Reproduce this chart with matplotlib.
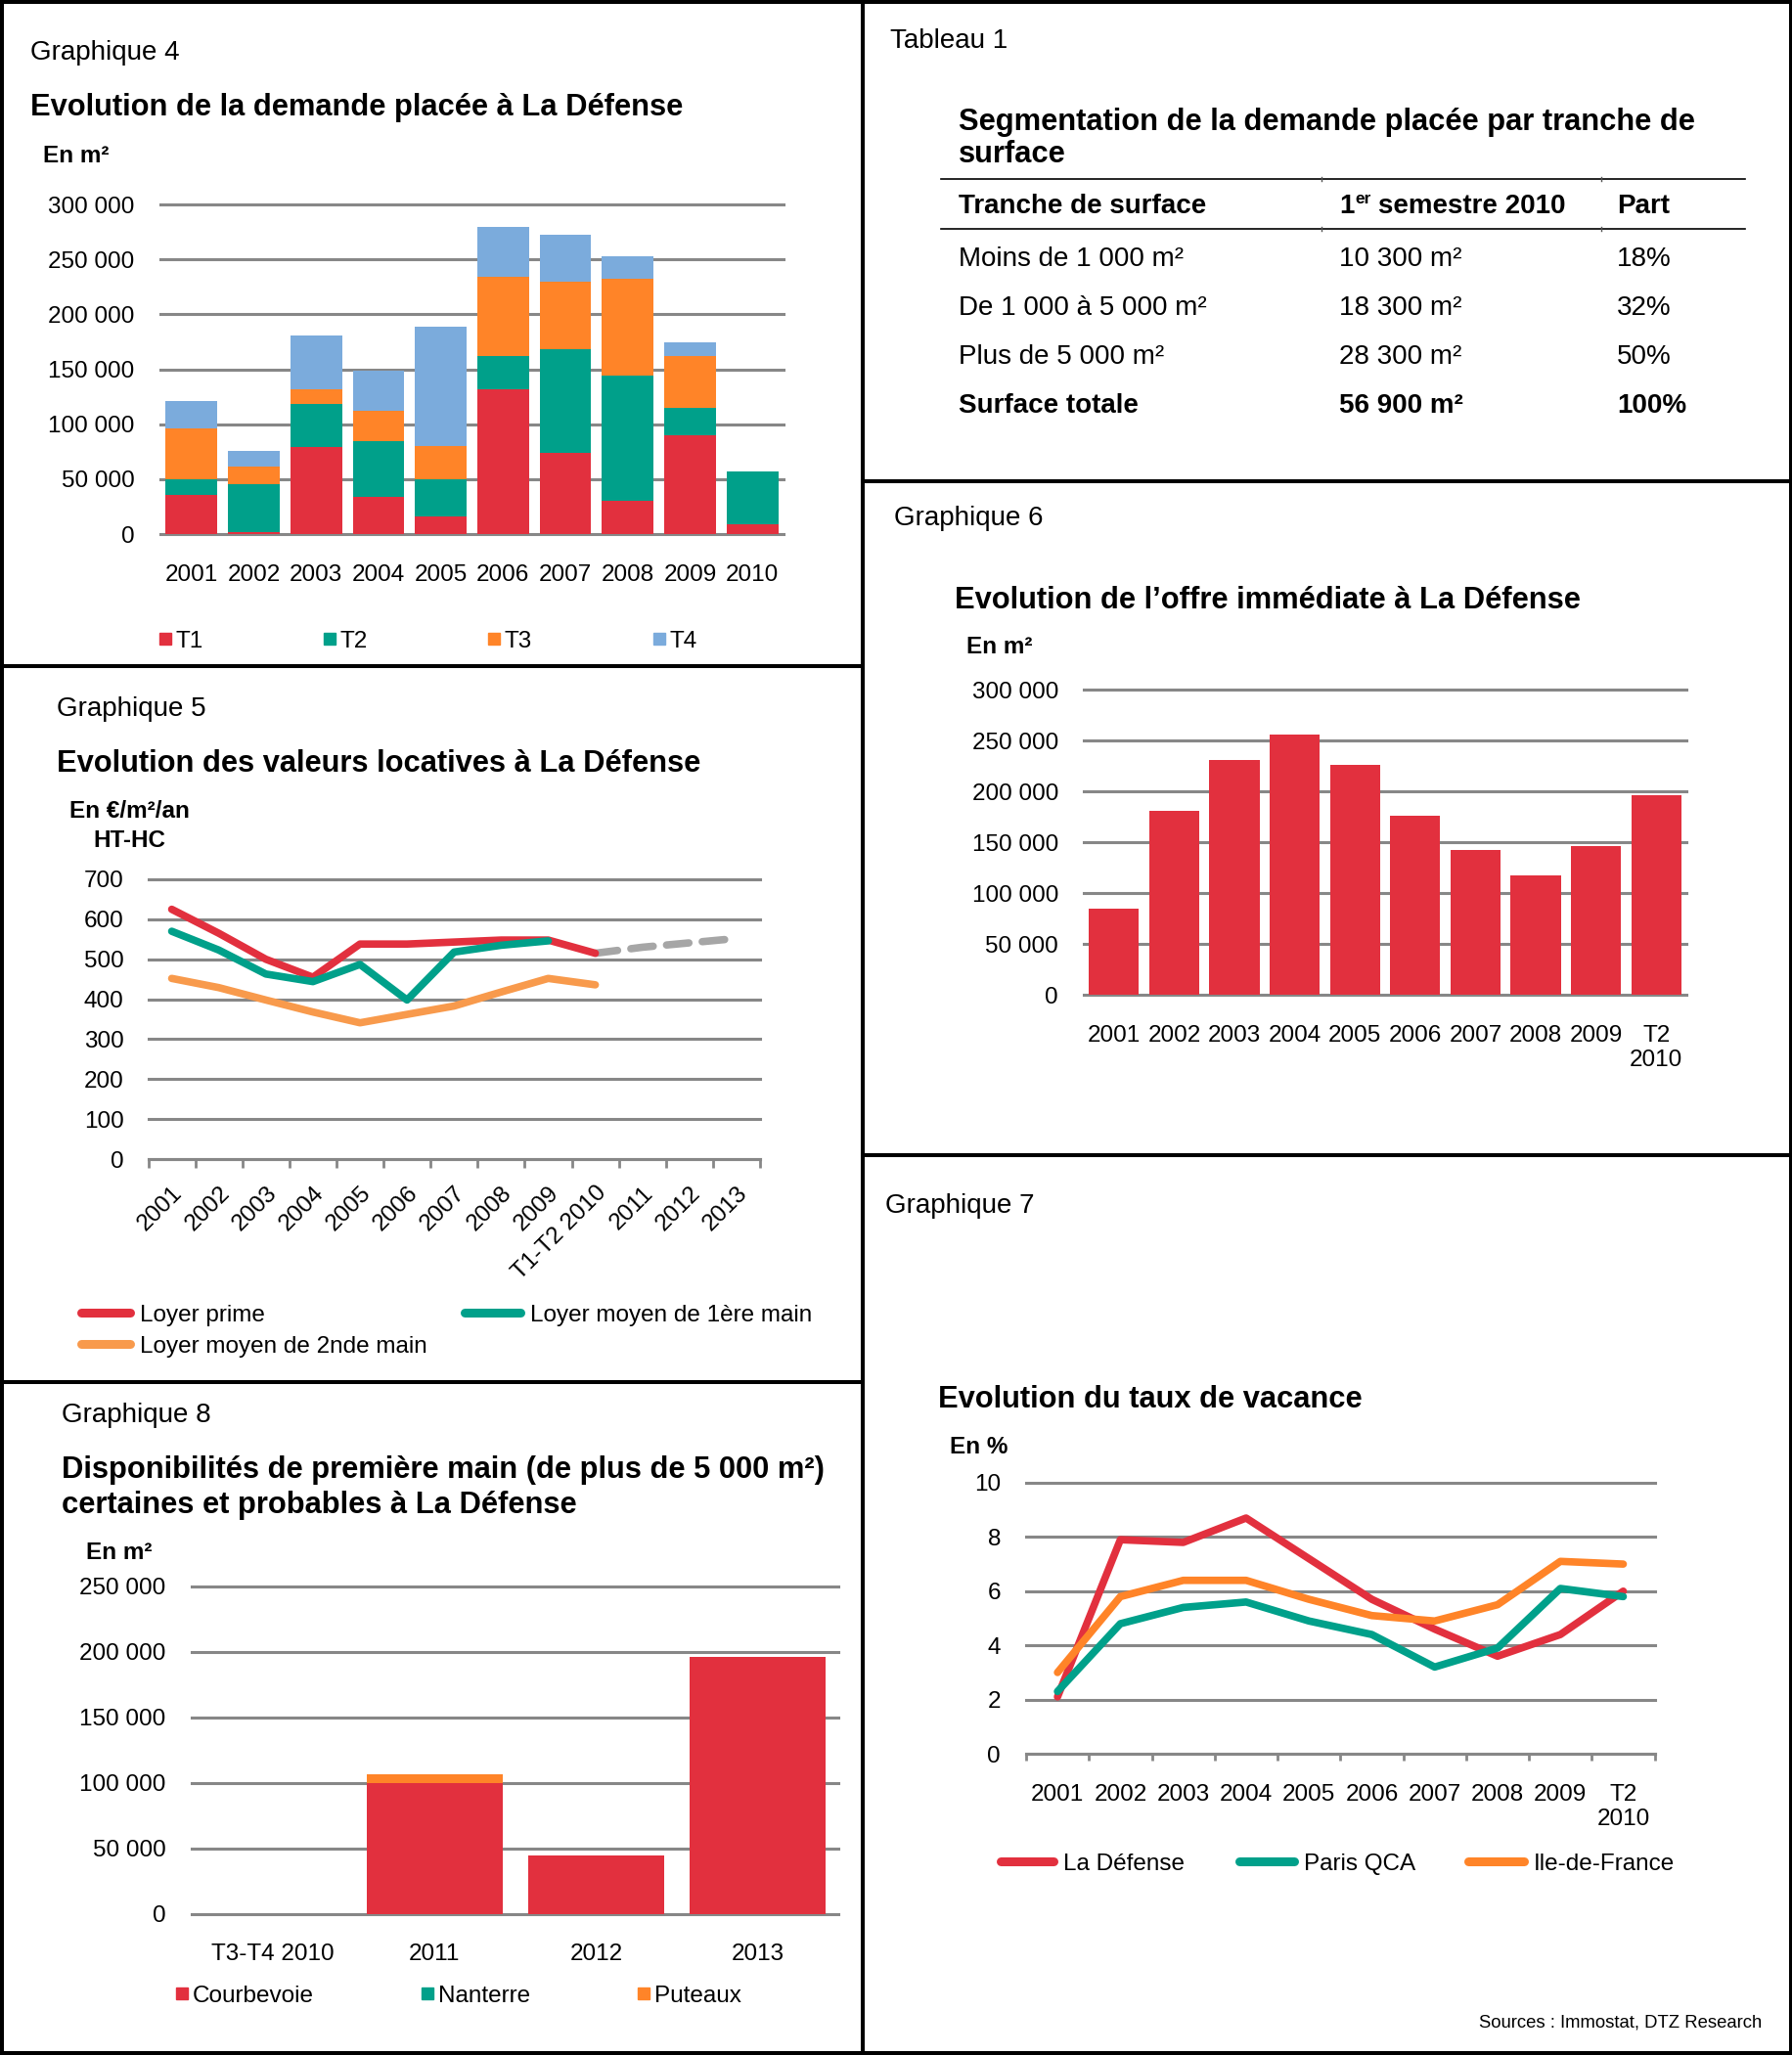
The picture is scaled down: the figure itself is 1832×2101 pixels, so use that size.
import matplotlib
matplotlib.use("Agg")
import matplotlib.pyplot as plt
from matplotlib.lines import Line2D
from matplotlib.patches import Rectangle
from matplotlib.ticker import FuncFormatter
import numpy as np

plt.rcParams["font.family"] = ["Liberation Sans", "DejaVu Sans"]

# ---- data ----
years4 = ["2001", "2002", "2003", "2004", "2005", "2006", "2007", "2008", "2009", "2010"]
t1 = [36000, 2000, 79500, 33500, 16000, 131500, 74000, 30000, 89500, 9000]
t2 = [13500, 43000, 39000, 51500, 34000, 30500, 94500, 114500, 25500, 48000]
t3 = [46500, 16000, 13500, 27000, 30500, 72000, 61000, 88000, 47000, 0]
t4 = [25500, 14500, 49000, 37000, 108500, 45500, 42500, 20500, 12500, 0]

years5 = ["2001", "2002", "2003", "2004", "2005", "2006", "2007", "2008", "2009",
          "T1-T2 2010", "2011", "2012", "2013"]
loyer_prime = [625, 565, 500, 455, 538, 538, 543, 548, 548, 515]
loyer_1ere = [570, 523, 463, 444, 487, 398, 518, 535, 546]
loyer_2nde = [452, 429, 398, 368, 341, 362, 383, 418, 452, 436]
prevision = [515, 530, 541, 552]  # T1-T2 2010 -> 2013

tab_head = ["Tranche de surface", "semestre 2010", "Part"]
tab_tranches = ["Moins de 1 000 m²", "De 1 000 à 5 000 m²", "Plus de 5 000 m²", "Surface totale"]
tab_surfaces = ["10 300 m²", "18 300 m²", "28 300 m²", "56 900 m²"]
tab_parts = ["18%", "32%", "50%", "100%"]

years6 = ["2001", "2002", "2003", "2004", "2005", "2006", "2007", "2008", "2009", "T2\n2010"]
offre = [85000, 181000, 231000, 256000, 226000, 176000, 142000, 117000, 146000, 196500]

years7 = years6
vac_defense = [2.1, 7.9, 7.8, 8.7, 7.2, 5.7, 4.6, 3.6, 4.4, 6.0]
vac_qca = [2.3, 4.8, 5.4, 5.6, 4.9, 4.4, 3.2, 3.9, 6.1, 5.8]
vac_idf = [3.0, 5.8, 6.4, 6.4, 5.7, 5.1, 4.9, 5.5, 7.1, 7.0]

periods8 = ["T3-T4 2010", "2011", "2012", "2013"]
courbevoie = [0, 100000, 44500, 196000]
nanterre = [0, 0, 0, 0]
puteaux = [0, 6000, 0, 0]

# ---- colours ----
RED = "#E2303E"
TEAL = "#00A08A"
ORANGE = "#FF8428"
ORANGE2 = "#F89A4C"
BLUE = "#7BABDC"
GRID = "#878787"
DASH = "#A6A6A6"

W, H = 1833, 2101
fig = plt.figure(figsize=(W / 100, H / 100), dpi=100)


def fx(x):
    return x / W


def fy(y):
    return 1 - y / H


def text(x, y, s, size=17.5, weight="normal", ha="left", va="center"):
    # small downward nudge so the visual centre sits where it was measured
    fig.text(fx(x), fy(y + 3), s, fontsize=size, fontweight=weight, ha=ha, va=va)


def axes_px(x0, y0, x1, y1):
    return fig.add_axes([fx(x0), fy(y1), (x1 - x0) / W, (y1 - y0) / H])


def space_fmt(v, pos):
    return f"{int(round(v)):,}".replace(",", " ")


def base_style(ax, ymax, step, pad, fmt=None):
    for s in ax.spines.values():
        s.set_visible(False)
    ax.set_facecolor("none")
    ax.set_ylim(0, ymax)
    ticks = np.arange(0, ymax + step / 2, step)
    ax.set_yticks(ticks)
    for t in ticks:
        ax.axhline(t, color=GRID, lw=2.2, zorder=0, clip_on=False)
    ax.tick_params(axis="y", length=0, pad=pad, labelsize=17.5)
    if fmt:
        ax.yaxis.set_major_formatter(FuncFormatter(fmt))


def square_legend(items, y):
    for x, c, lab in items:
        fig.add_artist(Rectangle((fx(x), fy(y + 6)), 12 / W, 12 / H,
                                 transform=fig.transFigure, color=c))
        text(x + 17, y, lab)


def line_legend(items, y):
    for x0, x1, c, lab in items:
        fig.add_artist(Line2D([fx(x0 + 4), fx(x1 - 4)], [fy(y), fy(y)], lw=6.5, color=c,
                              solid_capstyle="round", transform=fig.transFigure))
        text(x1 + 6, y, lab)


# ---- Graphique 4 ----
text(31, 51, "Graphique 4", 20)
text(31, 107, "Evolution de la demande placée à La Défense", 22.2, "bold")
text(44, 156, "En m²", 17.5, "bold")
ax4 = axes_px(164, 209, 801, 546)
base_style(ax4, 300000, 50000, 19, space_fmt)
x4 = np.arange(len(years4))
bottom = np.zeros(len(years4))
for vals, c in [(t1, RED), (t2, TEAL), (t3, ORANGE), (t4, BLUE)]:
    ax4.bar(x4, vals, 0.83, bottom=bottom, color=c, zorder=2)
    bottom += np.array(vals)
ax4.set_xlim(-0.5, len(years4) - 0.5)
ax4.set_xticks(x4, years4)
ax4.tick_params(axis="x", length=0, pad=22, labelsize=17.5)
square_legend([(163, RED, "T1"), (331, TEAL, "T2"), (499, ORANGE, "T3"), (668, BLUE, "T4")], 653)

# ---- Graphique 5 ----
text(58, 722, "Graphique 5", 20)
text(58, 778, "Evolution des valeurs locatives à La Défense", 22.2, "bold")
text(132, 827, "En €/m²/an", 17.5, "bold", ha="center")
text(132, 856, "HT-HC", 17.5, "bold", ha="center")
ax5 = axes_px(151.5, 899, 777, 1185)
base_style(ax5, 700, 100, 18)
ax5.spines["bottom"].set_visible(True)
ax5.spines["bottom"].set_color(GRID)
ax5.spines["bottom"].set_linewidth(2.2)
ax5.set_xlim(-0.5, len(years5) - 0.5)
ax5.set_xticks(np.arange(len(years5)), years5, rotation=45, ha="right",
               rotation_mode="anchor")
ax5.set_xticks(np.arange(-0.5, len(years5)), minor=True)
ax5.tick_params(axis="x", which="major", length=0, pad=17, labelsize=17.5)
ax5.tick_params(axis="x", which="minor", length=6.5, width=2, color=GRID)
lkw = dict(lw=5.5, solid_capstyle="round", solid_joinstyle="round", zorder=3)
ax5.plot(np.arange(len(loyer_prime)), loyer_prime, color=RED, **lkw)
ax5.plot(np.arange(len(loyer_1ere)), loyer_1ere, color=TEAL, **lkw)
ax5.plot(np.arange(len(loyer_2nde)), loyer_2nde, color=ORANGE2, **lkw)
ax5.plot(np.arange(9, 9 + len(prevision)), prevision, color=DASH, lw=5.5,
         dashes=(3, 1.8), dash_capstyle="round", zorder=2)
line_legend([(79, 137, RED, "Loyer prime"), (471, 536, TEAL, "Loyer moyen de 1ère main")], 1342)
line_legend([(79, 137, ORANGE2, "Loyer moyen de 2nde main")], 1374)

# ---- Graphique 8 ----
text(63, 1444, "Graphique 8", 20)
text(63, 1500, "Disponibilités de première main (de plus de 5 000 m²)", 22.2, "bold")
text(63, 1536, "certaines et probables à La Défense", 22.2, "bold")
text(88, 1584, "En m²", 17.5, "bold")
ax8 = axes_px(196, 1621.5, 857.5, 1956.5)
base_style(ax8, 250000, 50000, 19, space_fmt)
x8 = np.arange(len(periods8))
bottom = np.zeros(len(periods8))
for vals, c in [(courbevoie, RED), (nanterre, TEAL), (puteaux, ORANGE)]:
    ax8.bar(x8, vals, 0.84, bottom=bottom, color=c, zorder=2)
    bottom += np.array(vals)
ax8.set_xlim(-0.5, len(periods8) - 0.5)
ax8.set_xticks(x8, periods8)
ax8.tick_params(axis="x", length=0, pad=22, labelsize=17.5)
square_legend([(180, RED, "Courbevoie"), (431, TEAL, "Nanterre"), (652, ORANGE, "Puteaux")], 2038)

# ---- Tableau 1 ----
text(910, 39, "Tableau 1", 20)
text(980, 122, "Segmentation de la demande placée par tranche de", 22.2, "bold")
text(980, 155, "surface", 22.2, "bold")
for yy in (183, 234):
    fig.add_artist(Line2D([fx(962), fx(1784)], [fy(yy), fy(yy)], lw=1.2, color="black",
                          transform=fig.transFigure))
    for xx in (1351, 1637):
        fig.add_artist(Line2D([fx(xx), fx(xx)], [fy(yy - 2), fy(yy + 2)], lw=1,
                              color="#555555", transform=fig.transFigure))
text(980, 208, tab_head[0], 20, "bold")
text(1369, 208, "1", 20, "bold")
text(1385, 200, "er", 12.5, "bold")
text(1409, 208, tab_head[1], 20, "bold")
text(1653, 208, tab_head[2], 20, "bold")
row_y = [262, 312, 362, 412]
for i, yy in enumerate(row_y):
    wt = "bold" if i == len(row_y) - 1 else "normal"
    text(980, yy, tab_tranches[i], 20, wt)
    text(1369, yy, tab_surfaces[i], 20, wt)
    text(1653, yy, tab_parts[i], 20, wt)

# ---- Graphique 6 ----
text(914, 527, "Graphique 6", 20)
text(976, 611, "Evolution de l’offre immédiate à La Défense", 22.2, "bold")
text(988, 659, "En m²", 17.5, "bold")
ax6 = axes_px(1108, 705, 1724, 1017)
base_style(ax6, 300000, 50000, 18.7, space_fmt)
x6 = np.arange(len(years6))
ax6.bar(x6, offre, 0.83, color=RED, zorder=2)
ax6.set_xlim(-0.5, len(years6) - 0.5)
ax6.set_xticks(x6, years6)
ax6.tick_params(axis="x", length=0, pad=22, labelsize=17.5)

# ---- Graphique 7 ----
text(905, 1230, "Graphique 7", 20)
text(959, 1428, "Evolution du taux de vacance", 22.2, "bold")
text(971, 1476, "En %", 17.5, "bold")
ax7 = axes_px(1049, 1516, 1691.6, 1793)
base_style(ax7, 10, 2, 18.7)
ax7.spines["bottom"].set_visible(True)
ax7.spines["bottom"].set_color(GRID)
ax7.spines["bottom"].set_linewidth(2.2)
ax7.set_xlim(-0.5, len(years7) - 0.5)
ax7.set_xticks(np.arange(len(years7)), years7)
ax7.set_xticks(np.arange(-0.5, len(years7)), minor=True)
ax7.tick_params(axis="x", which="major", length=0, pad=22, labelsize=17.5)
ax7.tick_params(axis="x", which="minor", length=5, width=2, color=GRID)
x7 = np.arange(len(years7))
ax7.plot(x7, vac_defense, color=RED, **lkw)
ax7.plot(x7, vac_qca, color=TEAL, **lkw)
ax7.plot(x7, vac_idf, color=ORANGE, **lkw)
line_legend([(1019, 1081, RED, "La Défense"), (1263, 1327, TEAL, "Paris QCA"),
             (1497, 1562, ORANGE, "Ile-de-France")], 1903)

text(1801, 2065, "Sources : Immostat, DTZ Research", 13.3, ha="right")

# ---- panel frames ----
def frame_line(x0, y0, x1, y1):
    fig.add_artist(Line2D([fx(x0), fx(x1)], [fy(y0), fy(y1)], lw=2.9, color="black",
                          transform=fig.transFigure, solid_capstyle="projecting"))


frame_line(2, 2, 1831, 2)
frame_line(2, 2099, 1831, 2099)
frame_line(2, 2, 2, 2099)
frame_line(1831, 2, 1831, 2099)
frame_line(882, 2, 882, 2099)
frame_line(2, 680.5, 882, 680.5)
frame_line(2, 1413, 882, 1413)
frame_line(882, 492, 1831, 492)
frame_line(882, 1181, 1831, 1181)

fig.savefig("out.png", dpi=100)
